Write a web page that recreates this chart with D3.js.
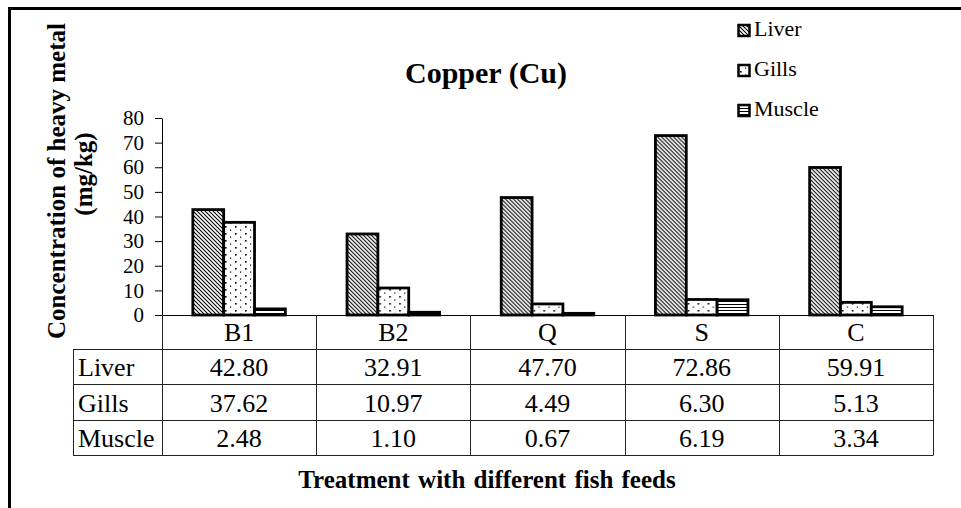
<!DOCTYPE html>
<html>
<head>
<meta charset="utf-8">
<script src="https://cdn.jsdelivr.net/npm/d3@7"></script>
</head>
<body style="margin:0; background:#fff">
<svg id="chart" width="961" height="508"></svg>
<script>
'use strict';

// data
var categories = ['B1', 'B2', 'Q', 'S', 'C'];
var series = ['Liver', 'Gills', 'Muscle'];
var liver = [42.80, 32.91, 47.70, 72.86, 59.91];
var gills = [37.62, 10.97, 4.49, 6.30, 5.13];
var muscle = [2.48, 1.10, 0.67, 6.19, 3.34];
var yTicks = [0, 10, 20, 30, 40, 50, 60, 70, 80];

var values = { Liver: liver, Gills: gills, Muscle: muscle };
var fmt = d3.format('.2f');
var serif = '"Liberation Serif"';

var svg = d3.select('#chart');

// outer frame (cut off at right and bottom)
svg.append('path')
  .attr('d', 'M9.5,508 V8.5 H961')
  .attr('fill', 'none')
  .attr('stroke', '#000')
  .attr('stroke-width', 3);

// fill patterns
var defs = svg.append('defs');

var pLiver = defs.append('pattern')
  .attr('id', 'pat-liver')
  .attr('patternUnits', 'userSpaceOnUse')
  .attr('width', 4).attr('height', 4);
pLiver.append('rect').attr('width', 4).attr('height', 4).attr('fill', '#fff');
pLiver.append('path')
  .attr('d', 'M0,0 L4,4 M-1,3 L1,5 M3,-1 L5,1')
  .attr('stroke', '#000').attr('stroke-width', 1.1);

var pGills = defs.append('pattern')
  .attr('id', 'pat-gills')
  .attr('patternUnits', 'userSpaceOnUse')
  .attr('width', 10).attr('height', 7);
pGills.append('rect').attr('width', 10).attr('height', 7).attr('fill', '#fff');
pGills.append('rect').attr('x', 3).attr('y', 2).attr('width', 1.6).attr('height', 1.6).attr('fill', '#000');
pGills.append('rect').attr('x', 8).attr('y', 5.5).attr('width', 1.2).attr('height', 1.2).attr('fill', '#000');

var pMuscle = defs.append('pattern')
  .attr('id', 'pat-muscle')
  .attr('patternUnits', 'userSpaceOnUse')
  .attr('width', 4).attr('height', 3);
pMuscle.append('rect').attr('width', 4).attr('height', 3).attr('fill', '#fff');
pMuscle.append('rect').attr('y', 1).attr('width', 4).attr('height', 1).attr('fill', '#000');

var fills = { Liver: 'url(#pat-liver)', Gills: 'url(#pat-gills)', Muscle: 'url(#pat-muscle)' };

// scales
var x0 = d3.scaleBand().domain(categories).range([162, 933]);
var x1 = d3.scaleBand().domain(series).range([0, x0.bandwidth()]).paddingOuter(1);
var y = d3.scaleLinear().domain([0, 80]).range([315, 118]);

function label(sel, size, bold) {
  return sel
    .style('font-family', serif)
    .style('font-size', size + 'px')
    .style('font-weight', bold ? 'bold' : 'normal')
    .style('fill', '#000');
}

// title
label(svg.append('text'), 30, true)
  .attr('x', 486).attr('y', 83)
  .attr('text-anchor', 'middle')
  .text('Copper (Cu)');

// y axis
var yAxis = svg.append('g')
  .attr('transform', 'translate(162,0)')
  .call(d3.axisLeft(y).tickValues(yTicks).tickSize(7).tickSizeOuter(0).tickPadding(11));
yAxis.select('.domain').attr('stroke', '#000');
yAxis.selectAll('.tick line').attr('stroke', '#000');
label(yAxis.selectAll('.tick text'), 21, false);

// y label
label(svg.append('text'), 25, true)
  .attr('transform', 'translate(65,181) rotate(-90)')
  .attr('text-anchor', 'middle')
  .text('Concentration of heavy metal');
label(svg.append('text'), 25, true)
  .attr('transform', 'translate(92,174) rotate(-90)')
  .attr('text-anchor', 'middle')
  .text('(mg/kg)');

// bars
var groups = svg.append('g').selectAll('g')
  .data(categories)
  .join('g')
  .attr('transform', function(d) { return 'translate(' + x0(d) + ',0)'; });

groups.selectAll('rect')
  .data(function(d, i) {
    return series.map(function(s) { return { key: s, value: values[s][i] }; });
  })
  .join('rect')
  .attr('x', function(d) { return x1(d.key); })
  .attr('y', function(d) { return y(d.value); })
  .attr('width', x1.bandwidth())
  .attr('height', function(d) { return y(0) - y(d.value); })
  .attr('fill', function(d) { return fills[d.key]; })
  .attr('stroke', '#000')
  .attr('stroke-width', 2.8);

// data table
var tableLeft = 73;
var rowTop = [315, 349, 384, 420, 455];
var grid = svg.append('g').attr('stroke', '#222').attr('stroke-width', 1).attr('fill', 'none');

// zero line
grid.append('line')
  .attr('x1', 155).attr('x2', x0.range()[1])
  .attr('y1', y(0) + 0.5).attr('y2', y(0) + 0.5)
  .attr('stroke', '#000');

grid.selectAll('line.h')
  .data(rowTop.slice(1))
  .join('line')
  .attr('class', 'h')
  .attr('x1', tableLeft)
  .attr('x2', x0.range()[1])
  .attr('y1', function(d) { return d + 0.5; })
  .attr('y2', function(d) { return d + 0.5; });

var vx = categories.map(function(c) { return x0(c); }).concat([x0.range()[1]]);
grid.selectAll('line.v')
  .data(vx)
  .join('line')
  .attr('class', 'v')
  .attr('x1', function(d) { return Math.round(d) + 0.5; })
  .attr('x2', function(d) { return Math.round(d) + 0.5; })
  .attr('y1', rowTop[0])
  .attr('y2', rowTop[4] + 0.5);
grid.append('line')
  .attr('x1', tableLeft + 0.5).attr('x2', tableLeft + 0.5)
  .attr('y1', rowTop[1]).attr('y2', rowTop[4] + 0.5);

var cellFont = 26;

label(svg.append('g').selectAll('text')
  .data(categories)
  .join('text'), cellFont, false)
  .attr('x', function(d) { return x0(d) + x0.bandwidth() / 2; })
  .attr('y', 341)
  .attr('text-anchor', 'middle')
  .text(function(d) { return d; });

var rowBase = [376, 412, 447];
series.forEach(function(s, r) {
  var row = svg.append('g');
  label(row.append('text'), cellFont, false)
    .attr('x', 78).attr('y', rowBase[r])
    .text(s);
  label(row.selectAll('text.v')
    .data(values[s])
    .join('text'), cellFont, false)
    .attr('class', 'v')
    .attr('x', function(d, i) { return x0(categories[i]) + x0.bandwidth() / 2; })
    .attr('y', rowBase[r])
    .attr('text-anchor', 'middle')
    .text(function(d) { return fmt(d); });
});

// x axis title
label(svg.append('text'), 25, true)
  .attr('x', 487).attr('y', 488)
  .attr('text-anchor', 'middle')
  .style('word-spacing', '2px')
  .text('Treatment with different fish feeds');

// legend
var legend = svg.append('g').selectAll('g')
  .data(series)
  .join('g')
  .attr('transform', function(d, i) { return 'translate(737,' + (36 + i * 40) + ')'; });
legend.append('rect')
  .attr('x', 1.5).attr('y', -11)
  .attr('width', 11).attr('height', 11)
  .attr('fill', function(d) { return fills[d]; })
  .attr('stroke', '#000')
  .attr('stroke-width', 2.5);
label(legend.append('text'), 22, false)
  .attr('x', 17).attr('y', 0)
  .text(function(d) { return d; });
</script>
</body>
</html>
